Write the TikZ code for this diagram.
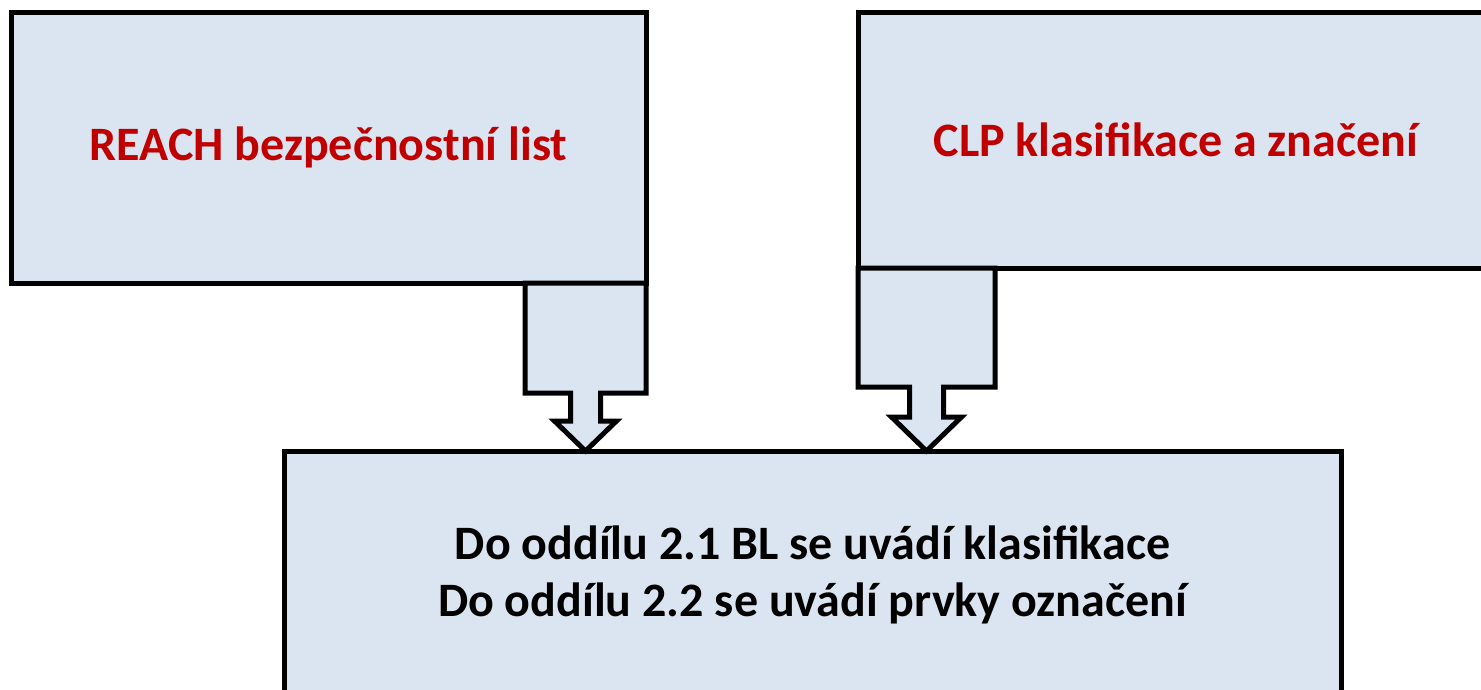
\documentclass[tikz,border=0pt]{standalone}
\usepackage{fontspec}
\setmainfont{Carlito}
\usetikzlibrary{calc}
\definecolor{boxfill}{RGB}{219,229,241}
\definecolor{titlered}{RGB}{192,0,0}

\begin{document}
\begin{tikzpicture}[
  x=1pt, y=-1pt,
  panel/.style={rectangle, draw, line width=5pt, fill=boxfill, inner sep=0pt, outer sep=0pt, align=center, font=\fontsize{48}{57}\selectfont\bfseries},
  blockarrow/.style={draw, line width=5pt, fill=boxfill, line join=miter}
]
\useasboundingbox (0,0) rectangle (1481,689);
\clip (0,0) rectangle (1481,689);

%% Sources
\node[panel, text=titlered, minimum width=635pt, minimum height=271pt] (reach) at (328.5,147.5) {REACH bezpečnostní list};
\node[panel, text=titlered, minimum width=636pt, minimum height=255.5pt] (clp) at (1176,140.25) {CLP klasifikace a značení};

%% Target
\node[panel, minimum width=1057pt, minimum height=248pt] (info) at (812.5,575) {Do oddílu 2.1 BL se uvádí klasifikace\\Do oddílu 2.2 se uvádí prvky označení};

%% Block arrows
\coordinate (midL) at ($(reach.south east)+(-60.5,0)$);
\coordinate (tipL) at (midL |- info.north);
\draw[blockarrow] ($(midL)+(-60.5,0)$) -- ($(midL)+(-60.5,110)$) -- ($(midL)+(-15,110)$) -- ($(midL)+(-15,138)$) -- ($(midL)+(-31,138)$) -- (tipL)
  -- ($(midL)+(31,138)$) -- ($(midL)+(15,138)$) -- ($(midL)+(15,110)$) -- ($(midL)+(60.5,110)$) -- ($(midL)+(60.5,0)$) -- cycle;

\coordinate (midR) at ($(clp.south west)+(68.5,0)$);
\coordinate (tipR) at (midR |- info.north);
\draw[blockarrow] ($(midR)+(-68.5,0)$) -- ($(midR)+(-68.5,119)$) -- ($(midR)+(-17,119)$) -- ($(midR)+(-17,149)$) -- ($(midR)+(-35,149)$) -- (tipR)
  -- ($(midR)+(35,149)$) -- ($(midR)+(17,149)$) -- ($(midR)+(17,119)$) -- ($(midR)+(68.5,119)$) -- ($(midR)+(68.5,0)$) -- cycle;
\end{tikzpicture}
\end{document}
